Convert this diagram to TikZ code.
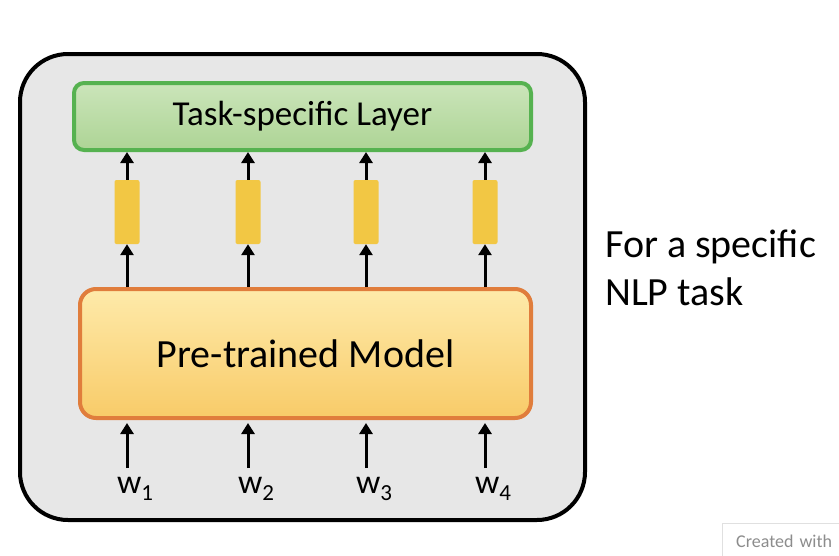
\documentclass[tikz,border=0pt]{standalone}
\usepackage{fontspec}
\setmainfont{Carlito}
\usetikzlibrary{arrows.meta,positioning}
\definecolor{panelgray}{HTML}{E7E7E7}
\definecolor{taskline}{HTML}{56B250}
\definecolor{tasktop}{HTML}{CBE5BA}
\definecolor{taskbot}{HTML}{ADD495}
\definecolor{preline}{HTML}{E07D3C}
\definecolor{pretop}{HTML}{FEEAAA}
\definecolor{prebot}{HTML}{F8CB68}
\definecolor{embyellow}{HTML}{F2C744}
\newcommand{\wsub}[1]{w\raisebox{-7pt}{\fontsize{23}{25}\selectfont #1}}
\tikzset{
	arr/.style={line width=3pt,-{Triangle[length=11pt,width=13pt]}},
	emb/.style={rectangle,rounded corners=2pt,fill=embyellow,minimum width=25pt,minimum height=64pt,inner sep=0pt},
	word/.style={anchor=north,inner sep=0pt,font=\fontsize{34}{36}\selectfont}
}
\begin{document}
\begin{tikzpicture}[x=1pt,y=-1pt]
		\useasboundingbox[fill=white] (0,0) rectangle (839,555);
		\draw[line width=4pt,fill=panelgray,rounded corners=48pt] (20,54) rectangle (585,520);
		\node[rectangle,rounded corners=10pt,draw=taskline,line width=4pt,top color=tasktop,bottom color=taskbot,minimum width=457pt,minimum height=67pt,font=\fontsize{35}{40}\selectfont] (task) at (302.5,116.5) {Task-specific Layer};
		\node[rectangle,rounded corners=16pt,draw=preline,line width=4pt,top color=pretop,bottom color=prebot,minimum width=451pt,minimum height=129pt,font=\fontsize{40}{46}\selectfont] (pre) at (305.5,353.5) {Pre-trained Model};
		\foreach \x [count=\i] in {127,248,366,485}
		{
			\node[emb] (e\i) at (\x,212) {};
			\node[word] (w\i) at (\x+8,468) {\strut\wsub{\i}};
			\draw[arr] (pre.north -| e\i) -- (e\i.south);
			\draw[arr] (e\i.north) -- (e\i.north |- task.south);
			\draw[arr] (w\i.north -| e\i) -- ([yshift=-3pt]e\i |- pre.south);
		}
		\node[anchor=base west,inner sep=0pt,font=\fontsize{40}{48}\selectfont,align=left] (note) at (605,305) {For a specific\\NLP task};
		\node[anchor=north west,draw=black!12,fill=white,text=black!45,inner sep=0pt,text width=140pt,minimum height=40pt,font=\fontsize{18}{20}\selectfont] (mark) at (722,523) {\hspace{14pt}\raisebox{3pt}{Created with}};
\end{tikzpicture}
\end{document}
